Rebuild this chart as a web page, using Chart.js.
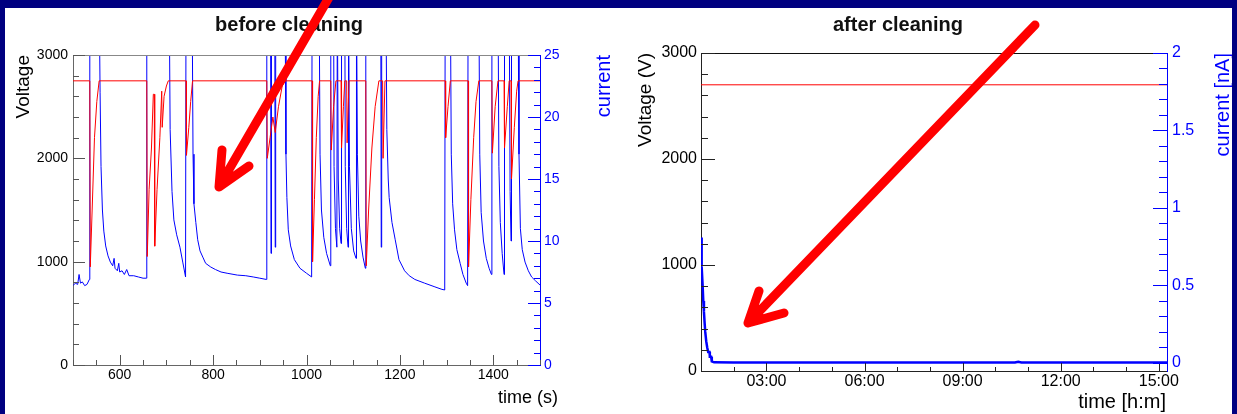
<!DOCTYPE html>
<html>
<head>
<meta charset="utf-8">
<script src="https://cdn.jsdelivr.net/npm/chart.js@4.4.1/dist/chart.umd.min.js"></script>
<style>
  html, body { margin: 0; padding: 0; }
  body { width: 1237px; height: 414px; background: #000080; position: relative; overflow: hidden; }
  #sheet { position: absolute; left: 5px; top: 8px; width: 1227px; height: 406px; background: #fff; }
  canvas { position: absolute; top: 8px; }
  #before { left: 5px; }
  #after { left: 618px; }
  #arrows { position: absolute; left: 0; top: 0; }
</style>
</head>
<body>
<div id="sheet"></div>
<canvas id="before" width="613" height="406"></canvas>
<canvas id="after" width="614" height="406"></canvas>
<svg id="arrows" width="1237" height="414">
  <g stroke="#ff0000" stroke-width="9" stroke-linecap="round" stroke-linejoin="round" fill="none">
    <path d="M331,-6 L220,185 M222,150 L219,187 L249,166"/>
    <path d="M1035,25 L750,321 M759,291 L748,323 L784,313"/>
  </g>
</svg>
<script>
// ---------- before cleaning (time in s) ----------
const beforeVoltageTime = [500, 536, 537, 541, 546, 551, 556, 658, 659, 663, 668, 672, 674, 675, 680, 686, 690, 691, 695, 700, 704,
  742, 743, 748, 752, 756, 915, 916, 922, 928, 933, 940, 948, 955, 1012, 1013, 1017, 1021, 1025, 1028,
  1052, 1053, 1058, 1063, 1074, 1075, 1079, 1082, 1086, 1087, 1091, 1127, 1128, 1133, 1140, 1147, 1155, 1163, 1164, 1168,
  1297, 1298, 1303, 1308, 1346, 1347, 1352, 1358, 1363, 1369, 1397, 1398, 1404, 1410, 1423, 1424, 1430, 1434,
  1438, 1439, 1445, 1450, 1453, 1500];
const beforeVoltage = [2750, 2750, 950, 1500, 2200, 2550, 2750, 2750, 1050, 1700, 2100, 2620, 2620, 1150, 1700, 2200, 2650, 2300, 2600, 2700, 2750,
  2750, 2030, 2300, 2550, 2750, 2750, 2000, 2200, 2400, 2250, 2500, 2700, 2750, 2750, 1000, 1600, 2200, 2600, 2750,
  2750, 2080, 2500, 2750, 2750, 2100, 2500, 2750, 2750, 2150, 2750, 2750, 960, 1500, 2100, 2500, 2750, 2750, 2000, 2750,
  2750, 2200, 2500, 2750, 2750, 950, 1600, 2200, 2550, 2750, 2750, 2050, 2500, 2750, 2750, 2100, 2500, 2750,
  2750, 1800, 2300, 2650, 2750, 2750];

const beforeCurrentTime = [500, 505, 510, 513, 516, 520, 525, 530, 535, 536, 556, 558, 560, 563, 566, 570, 575, 580, 585, 588, 590, 595, 598,
  600, 605, 610, 615, 620, 630, 640, 650, 657, 658, 706, 708, 712, 716, 722, 729, 735, 741, 742, 755, 757, 759, 763, 767,
  772, 778, 784, 795, 805, 817, 830, 852, 870, 886, 900, 914, 915, 923, 924, 925, 932, 933, 934, 954, 956, 958, 961,
  966, 974, 986, 1000, 1011, 1012, 1027, 1029, 1032, 1037, 1043, 1051, 1052, 1058, 1059, 1062, 1065, 1066, 1068, 1071,
  1074, 1075, 1082, 1083, 1086, 1089, 1090, 1092, 1096, 1101, 1106, 1107, 1109, 1112, 1116, 1121, 1126, 1127, 1159,
  1160, 1161, 1170, 1172, 1175, 1177, 1183, 1190, 1198, 1210, 1220, 1232, 1253, 1275, 1290, 1296, 1297, 1308, 1310,
  1313, 1317, 1322, 1329, 1335, 1342, 1345, 1346, 1369, 1371, 1374, 1379, 1385, 1391, 1396, 1397, 1410, 1412, 1415,
  1419, 1423, 1424, 1434, 1436, 1438, 1439, 1453, 1455, 1458, 1462, 1468, 1475, 1482, 1490, 1500];
const beforeCurrent = [6.4, 6.6, 6.5, 7.3, 6.6, 6.7, 6.4, 6.5, 6.9, 30, 30, 22, 16, 12.5, 10.8, 9.6, 8.8, 8.3, 8.0, 8.6, 7.8, 7.6, 8.2,
  7.5, 7.6, 7.3, 7.7, 7.2, 7.2, 7.1, 7.0, 7.0, 30, 30, 19, 14, 11.7, 10.5, 9.5, 8.3, 7.1, 30, 30, 17, 13, 11.5, 10.1,
  9.2, 8.7, 8.2, 7.9, 7.7, 7.5, 7.4, 7.25, 7.2, 7.1, 7.0, 6.9, 30, 30, 9, 30, 30, 9.5, 30, 30, 17, 13.5, 10.9,
  9.6, 8.5, 7.8, 7.4, 7.1, 30, 30, 17, 12.5, 10.3, 9.0, 8.0, 30, 30, 16, 11, 9.5, 30, 15, 11,
  9.8, 30, 30, 16, 11, 9.5, 30, 16, 11, 9.2, 8.6, 30, 17, 12, 10, 8.7, 7.8, 30, 30,
  9.5, 30, 30, 19, 15, 13.5, 11.5, 10.1, 8.5, 7.6, 7.2, 6.9, 6.6, 6.3, 6.1, 6.05, 30, 30, 17,
  13, 10.9, 9.3, 8.2, 7.3, 6.6, 6.4, 30, 30, 17, 12.3, 10, 8.6, 7.8, 7.3, 30, 30, 16, 11.5,
  9, 7.3, 30, 30, 14, 10, 30, 30, 17, 11, 9.3, 8.3, 7.6, 7.1, 6.8, 6.45];

const beforeTicksX = [600, 800, 1000, 1200, 1400];
const beforeTicksV = [0, 1000, 2000, 3000];
const beforeTicksI = [0, 5, 10, 15, 20, 25];

// ---------- after cleaning (time in h) ----------
const afterVoltageTime = [1.0, 15.25];
const afterVoltage = [2700, 2700];

const afterCurrentTime = [1.0, 1.01, 1.02, 1.03, 1.05, 1.07, 1.09, 1.11, 1.13, 1.16, 1.19, 1.22, 1.26, 1.27, 1.31, 1.33, 1.40,
  2.0, 3.0, 4.0, 5.0, 6.0, 7.0, 8.0, 9.0, 10.0, 10.6, 10.7, 10.8, 11.0, 12.0, 13.0, 14.0, 15.0, 15.25];
const afterCurrent = [0.81, 0.78, 0.70, 0.62, 0.50, 0.40, 0.33, 0.26, 0.20, 0.14, 0.10, 0.07, 0.07, 0.04, 0.04, 0.01, 0.004,
  0.003, 0.003, 0.003, 0.003, 0.003, 0.003, 0.003, 0.003, 0.003, 0.003, 0.008, 0.003, 0.003, 0.003, 0.003, 0.003, 0.003, 0.003];

const afterTicksX = [3, 6, 9, 12, 15];
const afterTicksV = [0, 1000, 2000, 3000];
const afterTicksI = [0, 0.5, 1, 1.5, 2];

const FONT = '"Liberation Sans", Arial, Helvetica, sans-serif';
const BLUE = '#0000ff';
const RED = '#ff0000';

const pts = (xs, ys) => xs.map((x, i) => ({ x, y: ys[i] }));
const useTicks = list => scale => { scale.ticks = list.map(value => ({ value })); };
const hhmm = v => String(v).padStart(2, '0') + ':00';

// ROOT style: ticks drawn inside the frame, top frame line, titles placed by hand
const rootAxes = {
  id: 'rootAxes',
  afterDraw(chart, args, opts) {
    const ctx = chart.ctx;
    const a = chart.chartArea;
    ctx.save();
    ctx.lineWidth = 1;
    ctx.strokeStyle = opts.frameColor;
    ctx.beginPath();
    ctx.moveTo(a.left, Math.round(a.top) + 0.5);
    ctx.lineTo(a.right, Math.round(a.top) + 0.5);
    ctx.stroke();

    Object.keys(opts.ticks).forEach(id => {
      const t = opts.ticks[id];
      const scale = chart.scales[id];
      const mark = (v, len) => {
        const p = Math.round(scale.getPixelForValue(v)) + 0.5;
        if (scale.isHorizontal()) { ctx.moveTo(p, a.bottom); ctx.lineTo(p, a.bottom - len); }
        else if (scale.position === 'left') { ctx.moveTo(a.left, p); ctx.lineTo(a.left + len, p); }
        else { ctx.moveTo(a.right, p); ctx.lineTo(a.right - len, p); }
      };
      ctx.strokeStyle = t.color;
      ctx.beginPath();
      const n = Math.round((t.to - t.from) / t.step);
      for (let k = 0; k <= n; k++) mark(t.from + k * t.step, t.minorLen);
      scale.ticks.forEach(tk => mark(tk.value, t.majorLen));
      ctx.stroke();
    });

    opts.texts.forEach(tx => {
      ctx.save();
      ctx.translate(tx.x, tx.y);
      if (tx.rotate) ctx.rotate(-Math.PI / 2);
      ctx.font = tx.font;
      ctx.fillStyle = tx.color || '#000';
      ctx.textAlign = tx.align || 'center';
      ctx.textBaseline = 'middle';
      ctx.fillText(tx.text, 0, 0);
      ctx.restore();
    });
    ctx.restore();
  }
};

function axis(opts) {
  return {
    type: 'linear',
    position: opts.position,
    min: opts.min,
    max: opts.max,
    grid: { display: false, drawTicks: false },
    border: { display: true, color: opts.borderColor, width: 1 },
    ticks: {
      color: opts.color,
      padding: opts.padding,
      font: { family: FONT, size: opts.fontSize },
      maxRotation: 0,
      autoSkip: false,
      callback: opts.format || (v => String(v))
    },
    afterBuildTicks: useTicks(opts.ticks),
    afterFit: scale => {
      if (opts.position === 'bottom') scale.height = opts.size; else scale.width = opts.size;
    }
  };
}

function lineSet(data, color, yAxisID, width) {
  return {
    data, yAxisID,
    borderColor: color,
    borderWidth: width,
    pointRadius: 0,
    tension: 0,
    fill: false
  };
}

// left chart: voltage and current against time in seconds
new Chart(document.getElementById('before'), {
  type: 'line',
  data: {
    datasets: [
      lineSet(pts(beforeVoltageTime, beforeVoltage), RED, 'y', 1),
      lineSet(pts(beforeCurrentTime, beforeCurrent), BLUE, 'y1', 1)
    ]
  },
  options: {
    responsive: false,
    animation: false,
    devicePixelRatio: 1,
    layout: { padding: { top: 47, left: 0, right: 0, bottom: 0 } },
    plugins: {
      legend: { display: false },
      tooltip: { enabled: false },
      rootAxes: {
        frameColor: '#888',
        ticks: {
          x: { from: 500, to: 1500, step: 50, minorLen: 5, majorLen: 10, color: '#555' },
          y: { from: 0, to: 3000, step: 200, minorLen: 6, majorLen: 12, color: '#555' },
          y1: { from: 0, to: 25, step: 1, minorLen: 6, majorLen: 12, color: BLUE }
        },
        texts: [
          { text: 'before cleaning', x: 284, y: 17, font: 'bold 20px ' + FONT, color: '#111' },
          { text: 'Voltage', x: 19, y: 47, rotate: true, align: 'right', font: '19px ' + FONT },
          { text: 'current', x: 599, y: 47, rotate: true, align: 'right', font: '20px ' + FONT, color: BLUE },
          { text: 'time (s)', x: 553, y: 390, align: 'right', font: '18px ' + FONT }
        ]
      }
    },
    scales: {
      x: axis({ position: 'bottom', min: 500, max: 1500, ticks: beforeTicksX, size: 49, padding: 2, fontSize: 14, color: '#000', borderColor: '#666' }),
      y: axis({ position: 'left', min: 0, max: 3000, ticks: beforeTicksV, size: 68, padding: 5, fontSize: 14, color: '#000', borderColor: '#666' }),
      y1: axis({ position: 'right', min: 0, max: 25, ticks: beforeTicksI, size: 78, padding: 4, fontSize: 14, color: BLUE, borderColor: BLUE })
    }
  },
  plugins: [rootAxes]
});

// right chart: voltage and current against time of day
new Chart(document.getElementById('after'), {
  type: 'line',
  data: {
    datasets: [
      lineSet(pts(afterVoltageTime, afterVoltage), RED, 'y', 1),
      lineSet(pts(afterCurrentTime, afterCurrent), BLUE, 'y1', 2.5)
    ]
  },
  options: {
    responsive: false,
    animation: false,
    devicePixelRatio: 1,
    layout: { padding: { top: 45, left: 0, right: 0, bottom: 0 } },
    plugins: {
      legend: { display: false },
      tooltip: { enabled: false },
      rootAxes: {
        frameColor: '#111',
        ticks: {
          x: { from: 1, to: 15, step: 1, minorLen: 4, majorLen: 8, color: '#222' },
          y: { from: 0, to: 3000, step: 200, minorLen: 7, majorLen: 14, color: '#222' },
          y1: { from: 0, to: 2, step: 0.1, minorLen: 8, majorLen: 14, color: BLUE }
        },
        texts: [
          { text: 'after cleaning', x: 280, y: 17, font: 'bold 20px ' + FONT, color: '#111' },
          { text: 'Voltage (V)', x: 28, y: 45, rotate: true, align: 'right', font: '19px ' + FONT },
          { text: 'current [nA]', x: 605, y: 45, rotate: true, align: 'right', font: '20px ' + FONT, color: BLUE },
          { text: 'time [h:m]', x: 548, y: 394, align: 'right', font: '20px ' + FONT }
        ]
      }
    },
    scales: {
      x: axis({ position: 'bottom', min: 1.0, max: 15.25, ticks: afterTicksX, size: 43, padding: 1, fontSize: 16, color: '#000', borderColor: '#222', format: hhmm }),
      y: axis({ position: 'left', min: 0, max: 3000, ticks: afterTicksV, size: 83, padding: 4, fontSize: 16, color: '#000', borderColor: '#222' }),
      y1: axis({ position: 'right', min: -0.052, max: 2, ticks: afterTicksI, size: 65, padding: 5, fontSize: 16, color: BLUE, borderColor: BLUE })
    }
  },
  plugins: [rootAxes]
});
</script>
</body>
</html>
